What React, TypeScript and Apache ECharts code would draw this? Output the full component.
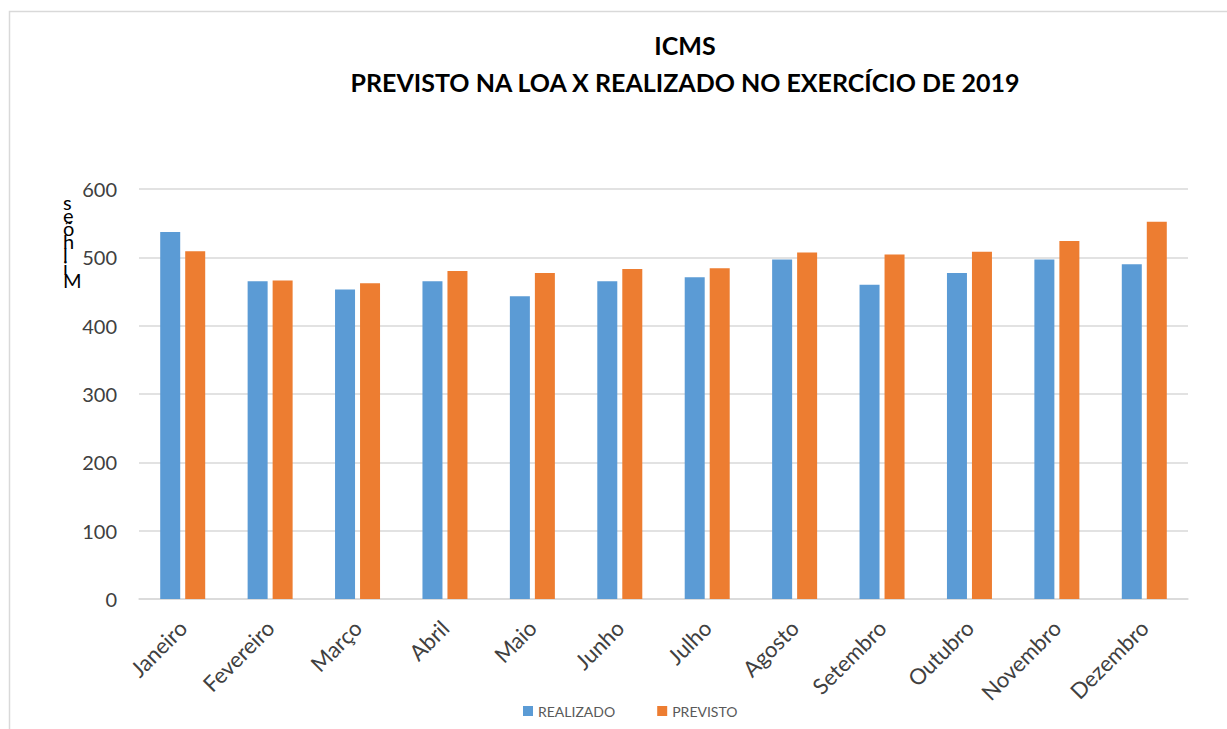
import React, { useEffect, useRef } from "react";
import * as echarts from "echarts";

const months = ["Janeiro", "Fevereiro", "Março", "Abril", "Maio", "Junho", "Julho", "Agosto", "Setembro", "Outubro", "Novembro", "Dezembro"];
const realizado = [537, 465, 453, 465, 443, 465, 471, 497, 460, 477, 497, 490];
const previsto = [509, 466, 462, 480, 477, 483, 484, 507, 504, 508, 524, 552];
const titleLines = ["ICMS", "PREVISTO NA LOA X REALIZADO NO EXERCÍCIO DE 2019"];
const yAxisName = "Milhões";

const FONT = "Lato, 'Open Sans', sans-serif";

export default function App() {
  const ref = useRef<HTMLDivElement>(null);
  useEffect(() => {
    if (!ref.current) return;
    const chart = echarts.init(ref.current, null, { renderer: "svg" });
    const stacked = yAxisName.split("").reverse().join("\n");
    chart.setOption({
      animation: false,
      backgroundColor: "#ffffff",
      textStyle: { fontFamily: FONT },
      title: {
        text: titleLines.join("\n"),
        left: 680,
        textAlign: "center",
        top: 21,
        textStyle: { fontFamily: FONT, fontWeight: "bold", fontSize: 25, color: "#000000", lineHeight: 37 },
      },
      graphic: [
        {
          type: "rect",
          shape: { x: 9.5, y: 11.5, width: 1240, height: 740 },
          style: { fill: "none", stroke: "#D9D9D9", lineWidth: 1.5 },
          silent: true,
        },
        {
          type: "text",
          left: 63,
          top: 192,
          style: { text: stacked, fontFamily: FONT, fontSize: 20, lineHeight: 13, fill: "#000000", align: "center" },
        },
      ],
      legend: {
        data: ["REALIZADO", "PREVISTO"],
        left: 518,
        bottom: 6,
        itemWidth: 10,
        itemHeight: 10,
        itemGap: 42,
        icon: "rect",
        textStyle: { fontFamily: FONT, fontSize: 14, color: "#595959" },
      },
      grid: { left: 139, right: 39, top: 189, bottom: 130, containLabel: false },
      xAxis: {
        type: "category",
        data: months,
        axisLine: { lineStyle: { color: "#D9D9D9", width: 1.5 } },
        axisTick: { show: false },
        axisLabel: { rotate: 45, fontFamily: FONT, fontSize: 22, color: "#404040", margin: 25, interval: 0 },
      },
      yAxis: {
        type: "value",
        min: 0,
        max: 600,
        interval: 100,
        axisLine: { show: false },
        axisTick: { show: false },
        splitLine: { lineStyle: { color: "#D9D9D9", width: 1.5 } },
        axisLabel: { fontFamily: FONT, fontSize: 20, color: "#404040", margin: 22 },
      },
      series: [
        { name: "REALIZADO", type: "bar", data: realizado, barWidth: 20, barGap: "25%", itemStyle: { color: "#5B9BD5" } },
        { name: "PREVISTO", type: "bar", data: previsto, barWidth: 20, itemStyle: { color: "#ED7D31" } },
      ],
    });
    return () => chart.dispose();
  }, []);
  return <div ref={ref} style={{ position: "fixed", left: 0, top: 0, width: 1227, height: 729 }} />;
}
